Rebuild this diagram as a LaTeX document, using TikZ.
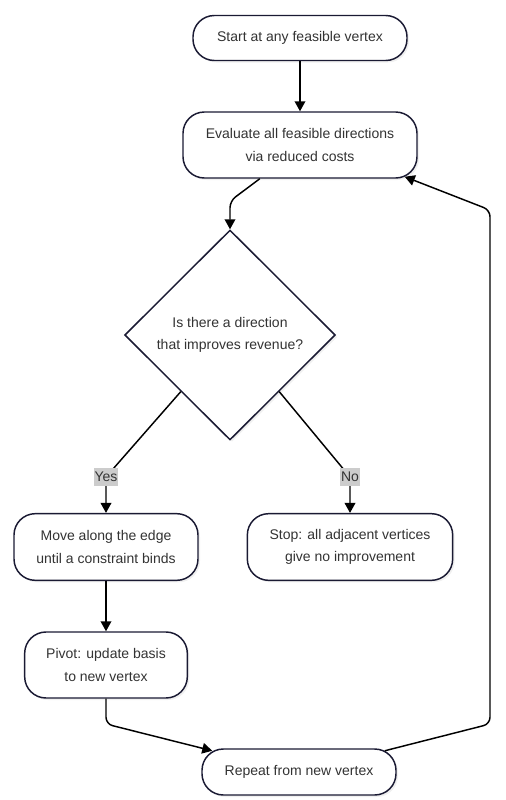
\documentclass[tikz,border=0pt]{standalone}
\usepackage{fontspec}
\setmainfont{Liberation Sans}
\usetikzlibrary{shapes.geometric,arrows.meta,calc,shadows}
\definecolor{boxline}{HTML}{1A1A33}
\definecolor{txtgray}{HTML}{333333}
\definecolor{lblgray}{HTML}{CCCCCC}
\begin{document}
\begin{tikzpicture}[x=0.75pt,y=-0.75pt,
    term/.style={draw=boxline,line width=1.1pt,fill=white,rounded corners=16pt,
        text=txtgray,align=center,font=\fontsize{10.5}{17}\selectfont,
        drop shadow={opacity=0.12,shadow xshift=1.5pt,shadow yshift=-1.5pt}},
    decide/.style={diamond,draw=boxline,line width=1.1pt,fill=white,inner sep=0pt,
        text=txtgray,align=center,font=\fontsize{10.5}{17}\selectfont,
        drop shadow={opacity=0.12,shadow xshift=1.5pt,shadow yshift=-1.5pt}},
    lbl/.style={fill=lblgray,text=txtgray,sharp corners,inner xsep=0.5pt,inner ysep=0pt,
        minimum height=14pt,font=\fontsize{10.5}{12}\selectfont},
    arr/.style={-{Triangle[length=7.5pt,width=8pt]},line width=1.1pt,rounded corners=5pt}]
    \useasboundingbox (0,0) rectangle (506,800);
    %
    \node[term,minimum width=160.5pt,minimum height=33.75pt] (start) at (300,38) {Start at any feasible vertex};
    \node[term,minimum width=175.5pt,minimum height=49.5pt] (eval) at (300,145) {Evaluate all feasible directions\\via reduced costs};
    \node[decide,minimum width=158pt,minimum height=157.5pt] (dec) at (230,335) {Is there a direction\\that improves revenue?};
    \node[term,minimum width=138pt,minimum height=50pt] (move) at (106,547) {Move along the edge\\until a constraint binds};
    \node[term,minimum width=154pt,minimum height=50pt] (stop) at (350,547) {Stop: all adjacent vertices\\give no improvement};
    \node[term,minimum width=122pt,minimum height=49.5pt] (pivot) at (106,665) {Pivot: update basis\\to new vertex};
    \node[term,minimum width=145.5pt,minimum height=34.5pt] (rep) at (299,772) {Repeat from new vertex};
    %
    \draw[arr] (start) -- (eval);
    \draw[arr] (eval.220) -- (230,201) -- (dec.north);
    \draw[arr] (dec.229) -- (106,477) node[lbl] {Yes} -- (move);
    \draw[arr] (dec.311) -- (350,477) node[lbl] {No} -- (stop);
    \draw[arr] (move) -- (pivot);
    \draw[arr] (pivot) -- (106,724) -- ($(rep.north west)+(11,2.5)$);
    \draw[arr] ($(rep.north east)+(-12,2.5)$) -- (490,724) -- (490,210) -- ($(eval.south east)+(-13,-2)$);
\end{tikzpicture}
\end{document}
